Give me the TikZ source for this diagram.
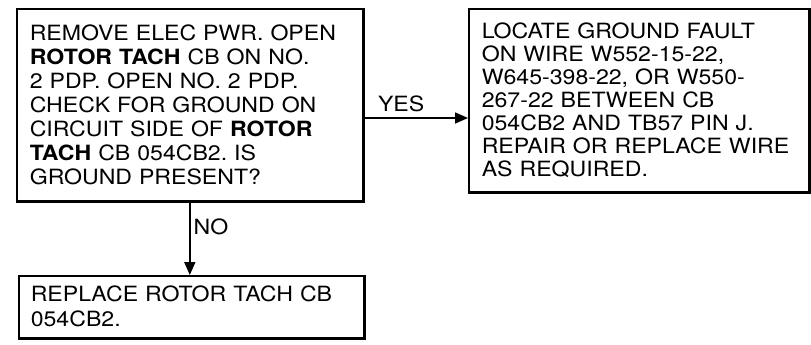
\documentclass[tikz,border=0pt]{standalone}
\usepackage{fontspec}
\setmainfont[FakeStretch=1.1]{TeX Gyre Heros}
\frenchspacing
\usetikzlibrary{positioning, arrows.meta}

\begin{document}
\begin{tikzpicture}[x=1pt, y=-1pt,
    stepbox/.style={draw, line width=1.6pt, align=left, inner xsep=13pt,
      font=\fontsize{21}{24}\selectfont, anchor=north west},
    flowarrow/.style={-{Triangle[length=13pt, width=11pt]}, line width=1.6pt},
    answer/.style={font=\fontsize{21}{24}\selectfont, inner sep=2pt}]
  \useasboundingbox (0,0) rectangle (811,345);
  % decision box
  \node[stepbox, minimum width=346pt, minimum height=192pt, text width=320pt] (check) at (16,8)
    {REMOVE ELEC PWR. OPEN\\
     \textbf{ROTOR TACH} CB ON NO.\\
     2 PDP. OPEN NO. 2 PDP.\\
     CHECK FOR GROUND ON\\
     CIRCUIT SIDE OF \textbf{ROTOR}\\
     \textbf{TACH} CB 054CB2. IS\\
     GROUND PRESENT?};
  \node[stepbox, minimum width=340pt, minimum height=183pt, text width=314pt,
        font=\fontsize{21}{23}\selectfont] (locate) at (468,8)
    {LOCATE GROUND FAULT\\
     ON WIRE W552-15-22,\\
     W645-398-22, OR W550-\\
     267-22 BETWEEN CB\\
     054CB2 AND TB57 PIN J.\\
     REPAIR OR REPLACE WIRE\\
     AS REQUIRED.};
  \node[stepbox, inner xsep=12pt, minimum width=345pt, minimum height=62pt, text width=321pt,
        font=\fontsize{21}{25}\selectfont] (replace) at (18,275)
    {REPLACE ROTOR TACH CB\\
     054CB2.};
  % heavy right and bottom edges
  \foreach \b in {check, locate, replace}
    \draw[line width=3.5pt] (\b.north east) -- (\b.south east) -- (\b.south west);
  % connectors
  \coordinate (yesrow) at (0,118);
  \draw[flowarrow] (check.east |- yesrow) -- node[answer, pos=0.36, above=3pt] (yes) {YES}
    (locate.west |- yesrow);
  \draw[flowarrow] (check.south) -- node[answer, pos=0.35, right=1pt] (no) {NO}
    (check.south |- replace.north);
\end{tikzpicture}
\end{document}
